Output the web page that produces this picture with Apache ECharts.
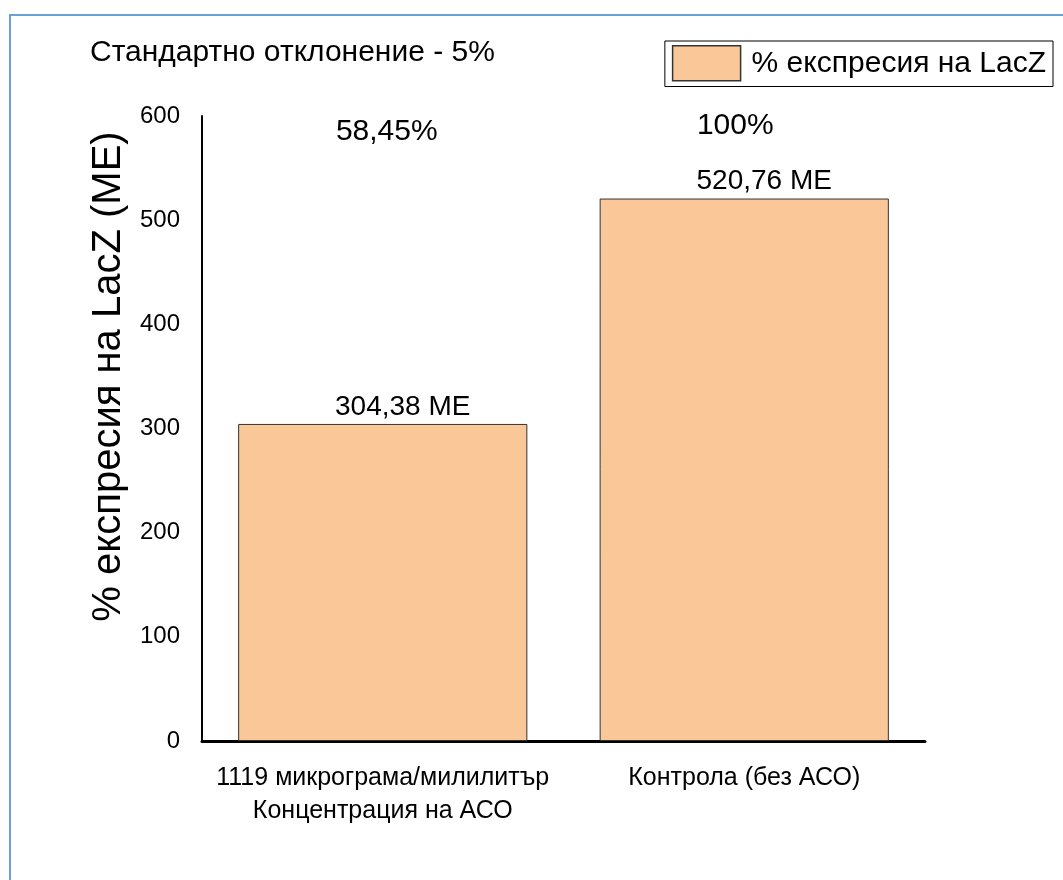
<!DOCTYPE html>
<html>
<head>
<meta charset="utf-8">
<script src="https://cdn.jsdelivr.net/npm/echarts@6/dist/echarts.min.js"></script>
<style>
  html, body { margin: 0; padding: 0; background: #fff; }
  #frame { position: absolute; left: 9px; top: 14px; width: 1100px; height: 900px; border-left: 2px solid #6a9fd8; border-top: 2px solid #6a9fd8; box-sizing: border-box; }
  #chart { position: absolute; left: 0; top: 0; width: 1063px; height: 880px; }
</style>
</head>
<body>
<div id="frame"></div>
<div id="chart"></div>
<script>
// LacZ expression per condition (ME units)
const categories = ['1119 микрограма/милилитър\nКонцентрация на АСО', 'Контрола (без АСО)'];
const lacZValues = [304.38, 520.76];
const percentLabels = ['58,45%', '100%'];
const percentLabelLevel = [585, 591];
const yTicks = [0, 100, 200, 300, 400, 500, 600];

// horizontal nudges for the percentage captions
const percentLabelShift = [4, -9];

const font = '"Liberation Sans", Arial, sans-serif';

const chart = echarts.init(document.getElementById('chart'), null, { renderer: 'canvas' });

chart.setOption({
  backgroundColor: 'transparent',
  animation: false,
  title: {
    text: 'Стандартно отклонение - 5%',
    left: 85,
    top: 33,
    textStyle: { fontFamily: font, fontSize: 30, fontWeight: 'normal', color: '#000' }
  },
  legend: {
    right: 10,
    top: 41,
    data: ['% експресия на LacZ'],
    icon: 'rect',
    itemWidth: 68,
    itemHeight: 35,
    itemGap: 10,
    padding: [4, 7, 5, 7],
    borderColor: '#000',
    borderWidth: 1,
    borderRadius: 0,
    itemStyle: { borderColor: '#333', borderWidth: 1.5 },
    textStyle: { fontFamily: font, fontSize: 30, color: '#000', padding: [0, 0, 0, 6] }
  },
  grid: { left: 202, right: 138, top: 116, bottom: 139, containLabel: false },
  xAxis: {
    type: 'category',
    data: categories,
    axisLine: { lineStyle: { color: '#000', width: 3 } },
    axisTick: { show: false },
    axisLabel: { fontFamily: font, fontSize: 25, color: '#000', margin: 21, lineHeight: 33, interval: 0 }
  },
  yAxis: {
    type: 'value',
    min: 0,
    max: 600,
    interval: 100,
    name: '% експресия на LacZ (ME)',
    nameLocation: 'middle',
    nameGap: 62,
    nameTextStyle: { fontFamily: font, fontSize: 40, color: '#000', padding: [0, 0, 0, 104] },
    axisLine: { show: true, lineStyle: { color: '#000', width: 2 } },
    axisTick: { show: false },
    splitLine: { show: false },
    axisLabel: {
      fontFamily: font, fontSize: 24, color: '#000', margin: 22,
      formatter: v => yTicks.includes(v) ? String(v) : ''
    }
  },
  series: [
    {
      name: '% експресия на LacZ',
      type: 'bar',
      data: lacZValues,
      barCategoryGap: '20%',
      itemStyle: { color: '#fac898', borderColor: '#333', borderWidth: 1 },
      label: {
        show: true,
        position: 'top',
        distance: 3,
        offset: [20, 0],
        fontFamily: font,
        fontSize: 28,
        color: '#000',
        formatter: p => p.value.toFixed(2).replace('.', ',') + ' ME'
      }
    },
    {
      name: 'percent',
      type: 'scatter',
      data: categories.map((c, i) => ({
        value: [i, percentLabelLevel[i]],
        label: { offset: [percentLabelShift[i], 0] }
      })),
      symbolSize: 0,
      itemStyle: { color: '#000', opacity: 1 },
      silent: true,
      label: {
        show: true,
        position: 'inside',
        fontFamily: font,
        fontSize: 30,
        color: '#000',
        formatter: p => percentLabels[p.dataIndex]
      }
    }
  ]
});
</script>
</body>
</html>
